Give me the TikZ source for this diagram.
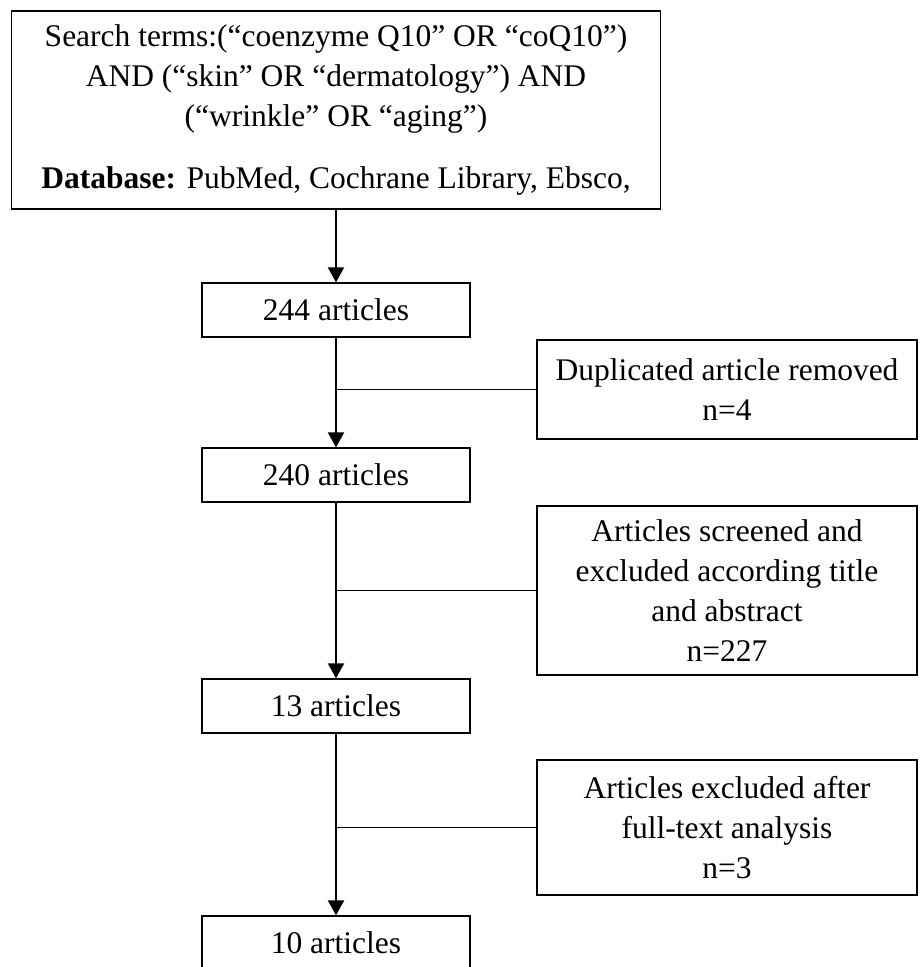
\documentclass[tikz,border=0pt]{standalone}
\usepackage{fontspec}
\setmainfont{Liberation Serif}
\usetikzlibrary{positioning,arrows.meta}

\begin{document}
\begin{tikzpicture}[
        x=1pt,
        y=-1pt,
        font=\fontsize{31.5}{40}\selectfont,
        caja/.style={draw, line width=1.3pt, align=center, inner sep=0pt},
        paso/.style={caja, minimum width=268pt, minimum height=54pt},
        excl/.style={caja, minimum width=380pt},
        flujo/.style={-{Triangle[length=15pt,width=16pt]}, line width=2pt},
        rama/.style={line width=1pt}
    ]
        \useasboundingbox (0,0) rectangle (919,967);

        % Búsqueda inicial y columna principal de artículos.
        \node[caja, minimum width=649pt, minimum height=198pt] (busqueda) at (336,110)
            {Search terms:(“coenzyme Q10” OR “coQ10”)\\
             AND (“skin” OR “dermatology”) AND\\
             (“wrinkle” OR “aging”)\\[22pt]
             \textbf{Database:} PubMed, Cochrane Library, Ebsco,};
        \node[paso] (a244) at (336,310) {244 articles};
        \node[paso] (a240) at (336,475) {240 articles};
        \node[paso] (a13) at (336,706) {13 articles};
        \node[paso] (a10) at (336,943) {10 articles};

        % Exclusiones a la derecha.
        \node[excl, minimum height=99pt] (duplicados) at (727,389.5)
            {Duplicated article removed\\ n=4};
        \node[excl, minimum height=169pt] (cribado) at (727,590.5)
            {Articles screened and\\ excluded according title\\ and abstract\\ n=227};
        \node[excl, minimum height=135pt] (textocompleto) at (727,827.5)
            {Articles excluded after\\ full-text analysis\\ n=3};

        % Flujo vertical.
        \draw[flujo] (busqueda) -- (a244);
        \draw[flujo] (a244) -- (a240);
        \draw[flujo] (a240) -- (a13);
        \draw[flujo] (a13) -- (a10);

        % Ramas hacia las cajas de exclusión.
        \draw[rama] (duplicados.west) -- (duplicados.west -| a244);
        \draw[rama] (cribado.west) -- (cribado.west -| a240);
        \draw[rama] (textocompleto.west) -- (textocompleto.west -| a13);
    \end{tikzpicture}
\end{document}
